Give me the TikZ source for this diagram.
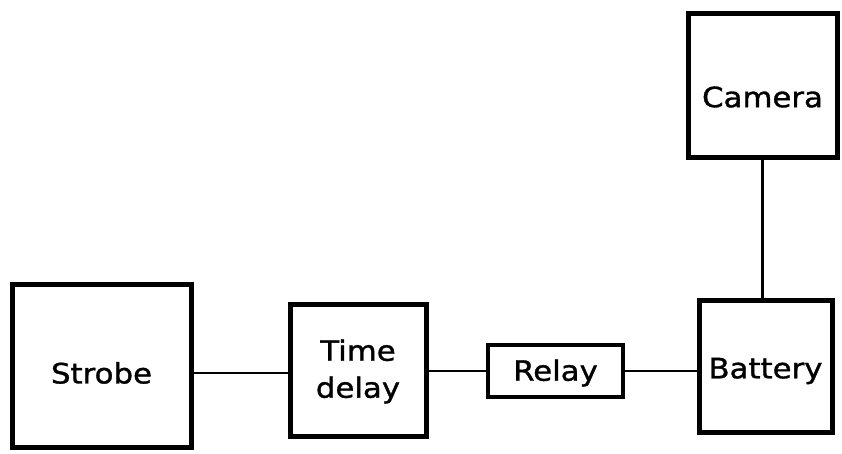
\documentclass[tikz,border=0pt]{standalone}
\usepackage{fontspec}
\setmainfont[FakeStretch=1.1,FakeBold=1.2]{DejaVu Sans}
\begin{document}
\begin{tikzpicture}[x=1pt,y=-1pt,
  box/.style={draw=black, line width=5pt, rectangle, inner sep=0pt, align=center},
  wire/.style={draw=black, line width=2.5pt},
  lbl/.style={font=\fontsize{28}{37}\selectfont, align=center, inner sep=0pt}]
\useasboundingbox (0,0) rectangle (842,453);
\node[box, minimum width=179pt, minimum height=163pt] (strobe) at (101.5,365.5) {};
\node[lbl] (strobet) at (101.5,373) {Strobe};
\node[box, minimum width=136pt, minimum height=132pt] (td) at (358,370) {};
\node[lbl] (tdt) at (358,371.5) {Time\\delay};
\node[box, line width=4.5pt, minimum width=135pt, minimum height=52pt] (relay) at (555.5,371) {};
\node[lbl] (relayt) at (555.5,373) {Relay};
\node[box, minimum width=133pt, minimum height=132pt] (battery) at (765.5,366) {};
\node[lbl] (batteryt) at (765.5,371) {Battery};
\node[box, minimum width=149pt, minimum height=144pt] (camera) at (762.5,85) {};
\node[lbl] (camerat) at (762.5,97) {Camera};
\draw[wire] ([yshift=-3pt]td.west) -- ([yshift=-3pt]td.west -| strobe.east);
\draw[wire] (relay.west) -- (relay.west -| td.east);
\draw[wire] (relay.east) -- (relay.east -| battery.west);
\draw[wire] (camera.south) -- (camera.south |- battery.north);
\end{tikzpicture}
\end{document}
